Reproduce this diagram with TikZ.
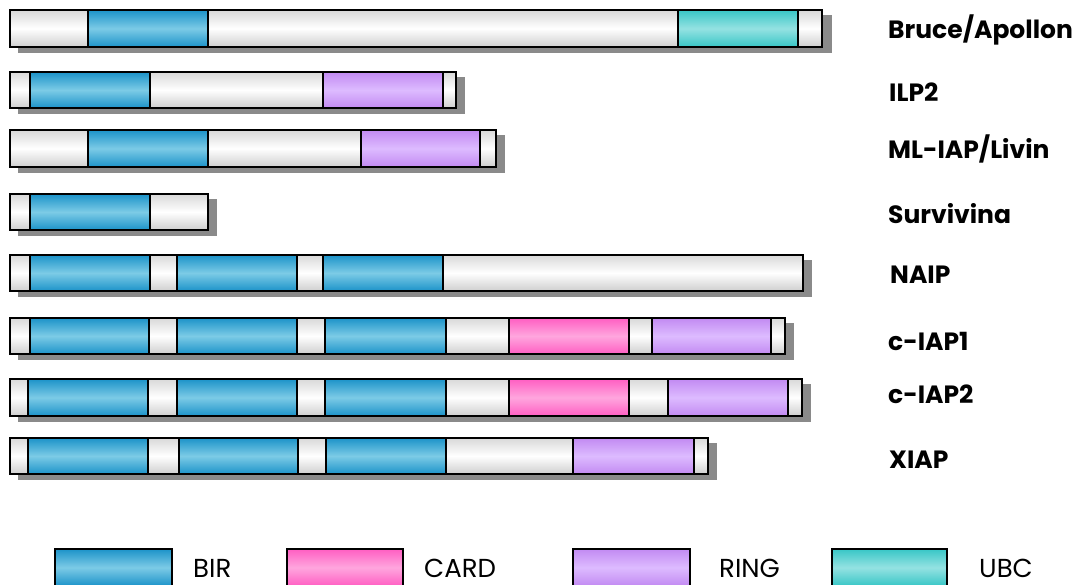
\documentclass[tikz,border=0pt]{standalone}
\usepackage{fontspec}
\setmainfont{Poppins}
\definecolor{birdark}{HTML}{1C93C9}
\definecolor{birlight}{HTML}{7CCBE6}
\definecolor{carddark}{HTML}{FF5EC2}
\definecolor{cardlight}{HTML}{FFA6DE}
\definecolor{ringdark}{HTML}{C28AF2}
\definecolor{ringlight}{HTML}{DDBBFF}
\definecolor{ubcdark}{HTML}{38C6C6}
\definecolor{ubclight}{HTML}{94E2E2}
\begin{document}
\begin{tikzpicture}[x=1pt,y=-1pt,
    seg/.style={draw=black,line width=1.5pt},
    plain/.style={seg,top color=gray!30,bottom color=gray!38,middle color=white},
    bir/.style={seg,top color=birdark,bottom color=birdark,middle color=birlight},
    card/.style={seg,top color=carddark,bottom color=carddark,middle color=cardlight},
    ring/.style={seg,top color=ringdark,bottom color=ringdark,middle color=ringlight},
    ubc/.style={seg,top color=ubcdark,bottom color=ubcdark,middle color=ubclight},
    dropshadow/.style={fill=black!46,draw=none},
    protein/.style={anchor=base west,inner sep=0pt,font=\bfseries\fontsize{25}{25}\selectfont},
    keylabel/.style={anchor=base west,inner sep=0pt,font=\fontsize{26}{26}\selectfont}]
  \clip (0,0) rectangle (1082,584);
  \fill[white] (0,0) rectangle (1082,584);

  % Bruce/Apollon
  \fill[dropshadow] (18,15) rectangle (832,53);
  \draw[plain] (10,10) rectangle (822,47);
  \draw[bir] (88,10) rectangle (208,47);
  \draw[ubc] (678,10) rectangle (798,47);
  \node[protein] (bruce) at (888,38) {Bruce/Apollon};

  % ILP2
  \fill[dropshadow] (18,77) rectangle (465,114);
  \draw[plain] (10,72) rectangle (456,108);
  \draw[bir] (30,72) rectangle (150,108);
  \draw[ring] (323,72) rectangle (443,108);
  \node[protein] (ilp2) at (889,101) {ILP2};

  % ML-IAP/Livin
  \fill[dropshadow] (18,135) rectangle (505,173);
  \draw[plain] (10,130) rectangle (496,167);
  \draw[bir] (88,130) rectangle (208,167);
  \draw[ring] (361,130) rectangle (480,167);
  \node[protein] (mliap) at (888,158) {ML-IAP/Livin};

  % Survivina
  \fill[dropshadow] (18,199) rectangle (217,236);
  \draw[plain] (10,194) rectangle (208,230);
  \draw[bir] (30,194) rectangle (150,230);
  \node[protein] (survivina) at (888,223) {Survivina};

  % NAIP
  \fill[dropshadow] (18,260) rectangle (812,297);
  \draw[plain] (10,255) rectangle (803,291);
  \draw[bir] (30,255) rectangle (150,291);
  \draw[bir] (177,255) rectangle (297,291);
  \draw[bir] (323,255) rectangle (443,291);
  \node[protein] (naip) at (890,283) {NAIP};

  % c-IAP1
  \fill[dropshadow] (18,323) rectangle (794,360);
  \draw[plain] (10,318) rectangle (785,354);
  \draw[bir] (30,318) rectangle (149,354);
  \draw[bir] (177,318) rectangle (297,354);
  \draw[bir] (325,318) rectangle (446,354);
  \draw[card] (509,318) rectangle (629,354);
  \draw[ring] (652,318) rectangle (771,354);
  \node[protein] (ciap1) at (888,350) {c-IAP1};

  % c-IAP2
  \fill[dropshadow] (18,384) rectangle (811,422);
  \draw[plain] (10,379) rectangle (802,416);
  \draw[bir] (28,379) rectangle (148,416);
  \draw[bir] (177,379) rectangle (297,416);
  \draw[bir] (325,379) rectangle (446,416);
  \draw[card] (509,379) rectangle (629,416);
  \draw[ring] (668,379) rectangle (788,416);
  \node[protein] (ciap2) at (888,403) {c-IAP2};

  % XIAP
  \fill[dropshadow] (18,443) rectangle (717,480);
  \draw[plain] (10,438) rectangle (708,474);
  \draw[bir] (28,438) rectangle (148,474);
  \draw[bir] (179,438) rectangle (298,474);
  \draw[bir] (326,438) rectangle (446,474);
  \draw[ring] (573,438) rectangle (694,474);
  \node[protein] (xiap) at (889,468) {XIAP};

  % legend
  \draw[bir] (55,549) rectangle (172,586);
  \node[keylabel] (kbir) at (193,577) {BIR};
  \draw[card] (287,549) rectangle (403,586);
  \node[keylabel] (kcard) at (424,577) {CARD};
  \draw[ring] (573,549) rectangle (690,586);
  \node[keylabel] (kring) at (719,577) {RING};
  \draw[ubc] (832,549) rectangle (947,586);
  \node[keylabel] (kubc) at (979,577) {UBC};
\end{tikzpicture}
\end{document}
